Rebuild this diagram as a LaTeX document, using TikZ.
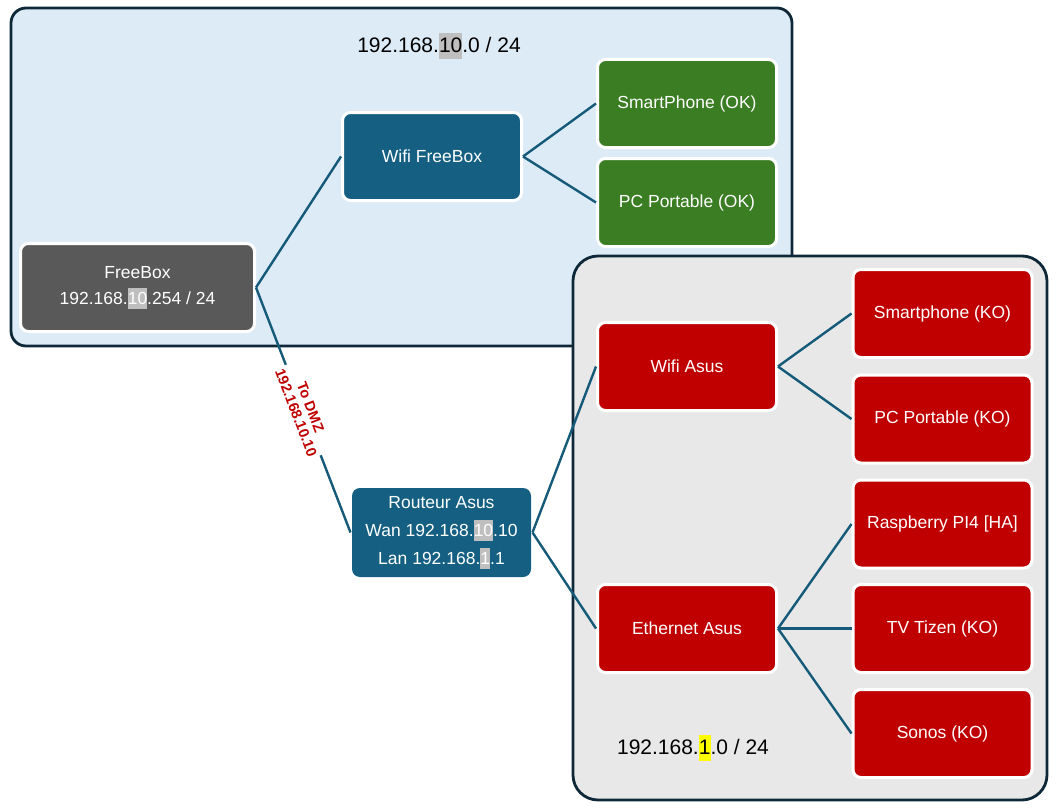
\documentclass[tikz,border=0pt]{standalone}
\usepackage{fontspec}
\setmainfont{Liberation Sans}
\definecolor{bluebg}{HTML}{DDEBF7}
\definecolor{graybg}{HTML}{E8E8E8}
\definecolor{frame}{HTML}{0E2838}
\definecolor{nblue}{HTML}{156082}
\definecolor{ngray}{HTML}{595959}
\definecolor{ngreen}{HTML}{3B7D23}
\definecolor{nred}{HTML}{C00000}
\definecolor{hlgray}{HTML}{BFBFBF}
\definecolor{hlyellow}{HTML}{FFFF00}
\definecolor{link}{HTML}{155A78}
\newcommand{\hlbox}[2]{{\setlength{\fboxsep}{0pt}\colorbox{#1}{\rule[-0.27em]{0pt}{1.2em}#2}}}
\begin{document}
\begin{tikzpicture}[x=1pt,y=-1pt,
  container/.style={draw=frame, line width=2.8pt},
  box/.style={rounded corners=8pt, draw=white, line width=3pt, text=white, align=center,
    font=\fontsize{17.5}{26}\selectfont, minimum width=179pt, minimum height=88pt, inner sep=0pt},
  title/.style={font=\fontsize{21}{25}\selectfont, text=black, inner sep=0pt},
  link/.style={draw=link, line width=2.4pt},
  dmz/.style={sloped, fill=white, text=nred, align=center, inner sep=2pt,
    font=\bfseries\fontsize{14.5}{15.5}\selectfont}
]
\useasboundingbox (0,0) rectangle (1061,808);
% containers
\draw[container, fill=bluebg, rounded corners=15pt] (11,8) rectangle (792,346);
\draw[container, fill=graybg, rounded corners=25pt] (573,256) rectangle (1047,800);
% titles
\node[title] (t1) at (439,46) {192.168.\hlbox{hlgray}{10}.0 / 24};
\node[title] (t2) at (693,748) {192.168.\hlbox{hlyellow}{1}.0 / 24};
% nodes
\node[box, fill=ngray, minimum width=234pt] (freebox) at (137.5,287.5) {FreeBox\\192.168.\hlbox{hlgray}{10}.254 / 24};
\node[box, fill=nblue] (wififb) at (432,156.5) {Wifi FreeBox};
\node[box, fill=ngreen] (smartok) at (687,103.5) {SmartPhone (OK)};
\node[box, fill=ngreen] (pcok) at (687,202.5) {PC Portable (OK)};
\node[box, fill=nblue, draw=none, minimum width=179pt, minimum height=89pt, font=\fontsize{17.5}{28}\selectfont] (routeur) at (441.5,532.5)
  {Routeur Asus\\Wan 192.168.\hlbox{hlgray}{10}.10\\Lan 192.168.\hlbox{hlgray}{1}.1};
\node[box, fill=nred] (wifiasus) at (687,366.5) {Wifi Asus};
\node[box, fill=nred] (smartko) at (942.5,313.5) {Smartphone (KO)};
\node[box, fill=nred] (pcko) at (942.5,419) {PC Portable (KO)};
\node[box, fill=nred] (rasp) at (942.5,524) {Raspberry PI4 [HA]};
\node[box, fill=nred] (eth) at (687,628.5) {Ethernet Asus};
\node[box, fill=nred] (tv) at (942.5,628.5) {TV Tizen (KO)};
\node[box, fill=nred] (sonos) at (942.5,733.5) {Sonos (KO)};
% connectors
\draw[link] (freebox.east) -- (wififb.west);
\draw[link] (wififb.east) -- (smartok.west);
\draw[link] (wififb.east) -- (pcok.west);
\draw[link] (freebox.east) -- node[dmz] {To DMZ\\192.168.10.10} (routeur.west);
\draw[link] (routeur.east) -- (wifiasus.west);
\draw[link] (routeur.east) -- (eth.west);
\draw[link] (wifiasus.east) -- (smartko.west);
\draw[link] (wifiasus.east) -- (pcko.west);
\draw[link] (eth.east) -- (rasp.west);
\draw[link] (eth.east) -- (tv.west);
\draw[link] (eth.east) -- (sonos.west);
\end{tikzpicture}
\end{document}
